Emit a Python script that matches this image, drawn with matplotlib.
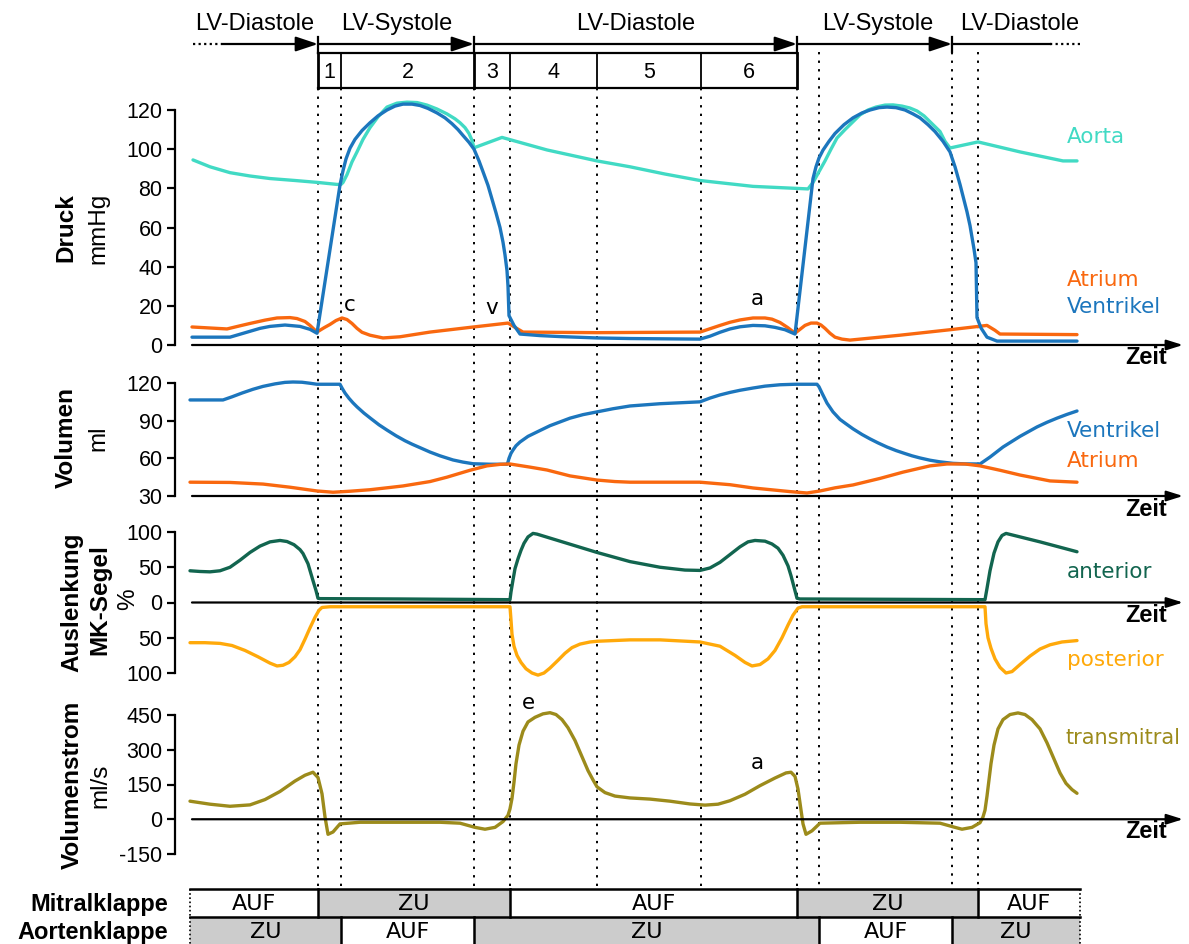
import matplotlib
matplotlib.use("Agg")
import matplotlib.pyplot as plt
from matplotlib.patches import Rectangle

plt.rcParams['font.family'] = ['Liberation Sans', 'DejaVu Sans']
plt.rcParams['axes.unicode_minus'] = False

# ---------------- data (time axis in arbitrary units along the cycle) ----------------
phase_t = [318, 341, 474, 510, 597, 701, 797, 819, 952, 978]
phase_nums = ['1', '2', '3', '4', '5', '6']

# Pressure (mmHg)
aorta_t = [193, 210, 230, 250, 270, 295, 318, 337, 341, 343, 347, 352, 357, 363, 370, 378,
           387, 397, 407, 417, 427, 437, 447, 455, 460, 465, 469, 472, 474,
           502, 547, 597, 630, 665, 700, 753, 808, 813, 819, 825, 831, 837, 845, 852,
           860, 868, 876, 885, 893, 902, 910, 917, 924, 930, 936, 940, 945, 950,
           978, 1020, 1063, 1077]
aorta_p = [94.5, 91, 88, 86.3, 85, 84, 83, 82, 82, 83, 87, 93.5, 98.6, 105, 111, 116.5,
           121.5, 123.5, 124, 123.8, 122.5, 120.5, 118, 115.5, 113.5, 111, 108, 104.5, 100.7,
           106, 99.6, 94, 91, 87.3, 84, 81, 79.7, 83, 88.5, 94, 100, 105.7, 110, 113.5,
           117.5, 120, 121.5, 122.5, 122.6, 122, 121, 119.5, 117, 114, 111, 109, 104, 100.6,
           103.7, 98.6, 94, 94]

vent_p_t = [192, 230, 240, 250, 260, 270, 285, 300, 310, 317, 340, 343, 346, 350, 355, 362,
            370, 378, 387, 395, 403, 412, 420, 428, 437, 445, 452, 458, 463, 469, 474, 479,
            483, 488, 492, 496, 500, 503, 505, 507, 508, 509, 514, 520, 540, 560, 597, 630,
            700, 710, 720, 730, 740, 753, 765, 775, 785, 795, 813, 816, 819, 823, 829, 835,
            844, 853, 862, 870, 879, 887, 896, 905, 913, 920, 928, 935, 943, 950, 955, 960,
            964, 967, 970, 972, 974, 976, 977, 981, 987, 997, 1077]
vent_p = [4, 4, 5.5, 7, 8.5, 9.5, 10.2, 9.5, 8, 6, 81.7, 89, 95, 100.5, 105, 109.5,
          113.5, 117, 120, 122, 123, 123, 122.3, 120.8, 118.5, 116, 113, 110, 107, 103.5, 100, 94,
          88.5, 81.5, 74.5, 67.5, 60, 52.5, 46, 38, 30, 15, 10, 5.6, 4.8, 4.3, 3.6, 3.3,
          3, 4.5, 6.5, 8.2, 9.3, 10, 9.8, 9, 7.8, 5.6, 85, 91, 95.5, 99.5, 104, 108,
          112.5, 116, 118.5, 120, 121.2, 121.5, 121.2, 120, 118, 116, 112.5, 109, 104, 98.6, 91, 82,
          74, 68, 61, 55, 49, 42, 14, 8.7, 4, 2, 2]

atr_p_t = [192, 227, 240, 250, 265, 277, 290, 297, 305, 310, 317, 324, 330, 336, 342, 347,
           352, 357, 362, 370, 383, 400, 430, 470, 508, 515, 523, 597, 700, 710, 720, 730,
           740, 753, 765, 772, 780, 788, 795, 800, 805, 811, 817, 821, 825, 830, 835, 842,
           850, 900, 950, 987, 995, 1000, 1077]
atr_p = [9.2, 8.2, 9.8, 11, 12.7, 13.8, 14, 13.5, 12, 10, 6.6, 8.8, 10.5, 12.5, 13.8, 13,
         11, 8.5, 6.5, 5, 3.6, 4.2, 6.6, 9, 11.2, 9, 6.6, 6.3, 6.6, 8.3, 10, 11.6,
         12.8, 13.8, 13.8, 13.2, 11.5, 8.8, 6, 8, 10, 11.2, 11.2, 10.2, 8.5, 6, 4, 3,
         2.5, 5, 7.8, 10, 7.5, 5.6, 5.3]

# Volume (ml)
vent_v_t = [190, 223, 232, 242, 253, 263, 275, 285, 293, 302, 310, 317, 340, 342, 345, 349,
            353, 357, 364, 371, 379, 387, 396, 405, 412, 420, 430, 440, 453, 463, 473, 490,
            507, 508, 509, 511, 513, 516, 520, 528, 537, 550, 560, 570, 583, 597, 613, 630,
            660, 700, 710, 720, 730, 740, 753, 765, 780, 795, 817, 819, 822, 827, 833, 840,
            846, 853, 862, 870, 878, 887, 896, 905, 912, 920, 930, 940, 953, 965, 980, 990,
            1003, 1020, 1037, 1047, 1057, 1067, 1077]
vent_v = [106.5, 106.5, 109, 112, 115, 117.3, 119.3, 120.5, 120.8, 120.6, 119.8, 119, 119, 116, 112, 107.8,
          104.2, 101, 96, 91.6, 86.7, 82.5, 78, 74, 71.3, 68.5, 65, 62, 58.7, 57, 55.7, 55.3,
          55.3, 57, 60, 64, 66.6, 70, 73, 77.5, 81, 86, 89, 92, 94.8, 97, 99.5, 101.7,
          103.5, 105, 108, 110.5, 112.5, 114.2, 116, 117.5, 118.6, 119, 119, 117, 112, 104, 97, 91,
          87.5, 83.5, 79, 75.5, 72.3, 69, 66.2, 63.8, 62, 60.3, 58.5, 57.2, 56, 55.6, 55.5, 61,
          69, 77.5, 85, 88.7, 92, 95, 97.7]

atr_v_t = [190, 230, 263, 290, 317, 333, 350, 370, 390, 403, 430, 447, 470, 487, 500, 510,
           530, 547, 570, 597, 615, 630, 700, 730, 753, 790, 807, 820, 835, 853, 880, 903,
           930, 947, 965, 980, 1000, 1020, 1050, 1077]
atr_v = [41, 40.8, 39.5, 37, 34, 33, 33.8, 35, 36.8, 38, 41.5, 45, 50.5, 54, 55.2, 55.5,
         53, 50.7, 46, 42.7, 41.5, 41, 41, 39, 36.4, 33.5, 32.4, 34, 36.5, 38.8, 44, 49,
         54, 55.5, 55.5, 54, 50.5, 46.7, 42, 41]

# Mitral leaflet excursion (%)
ant_t = [190, 200, 210, 220, 230, 240, 250, 260, 270, 280, 287, 294, 300, 303, 308, 313,
         316, 318, 320, 400, 510, 511, 513, 515, 518, 521, 524, 528, 533, 537, 597, 630,
         660, 685, 700, 710, 720, 730, 740, 748, 755, 765, 772, 778, 783, 788, 791, 794,
         797, 800, 900, 985, 987, 990, 994, 998, 1002, 1006, 1040, 1077]
ant = [45, 44, 43.5, 45, 50, 60, 71, 80, 86, 88, 86.5, 82, 75, 69.5, 55, 31,
       17, 6, 5.5, 5, 4, 15, 32, 48, 62, 74, 84, 93, 98, 97, 71, 58,
       50, 46, 45.5, 49, 57, 68, 79, 86, 88, 87, 83, 77, 67, 52, 38, 22,
       6, 5, 4.5, 4, 20, 45, 70, 86, 95, 98, 86, 72]

post_t = [190, 205, 220, 232, 245, 258, 270, 277, 283, 289, 295, 300, 305, 310, 315, 319,
          322, 330, 510, 511, 512, 514, 517, 521, 526, 532, 538, 544, 550, 558, 565, 572,
          580, 590, 597, 630, 660, 700, 720, 735, 745, 752, 760, 768, 775, 782, 788, 793,
          798, 802, 985, 986, 988, 991, 995, 1000, 1006, 1012, 1020, 1030, 1040, 1050, 1062, 1077]
post = [-57, -57, -58, -61, -68, -77, -86, -90, -89, -85, -77, -67, -52, -36, -21, -11,
        -7, -6, -6, -25, -45, -62, -75, -85, -94, -100, -103, -100, -93, -82, -72, -64,
        -59, -56, -55, -53, -53, -56, -62, -75, -85, -90, -88, -80, -68, -50, -32, -18,
        -8, -6, -6, -30, -50, -65, -80, -92, -100, -98, -88, -76, -66, -60, -56, -54]

# Transmitral flow (ml/s)
flow_t = [190, 210, 230, 250, 265, 280, 295, 305, 313, 318, 322, 325, 328, 333, 340, 360,
          400, 440, 460, 475, 485, 495, 503, 508, 510, 512, 514, 516, 519, 523, 528, 535,
          543, 550, 556, 562, 568, 575, 582, 588, 593, 597, 605, 615, 630, 650, 670, 690,
          705, 718, 730, 745, 760, 775, 786, 791, 795, 798, 801, 803, 806, 812, 820, 860,
          900, 940, 955, 962, 972, 980, 983, 985, 987, 989, 991, 994, 998, 1003, 1010, 1018,
          1025, 1032, 1040, 1047, 1054, 1060, 1066, 1072, 1077]
flow = [78, 65, 56, 62, 85, 120, 165, 190, 203, 180, 110, 10, -65, -55, -20, -13,
        -13, -13, -17, -35, -43, -35, -10, 17, 45, 90, 160, 240, 320, 380, 420, 440,
        455, 460, 452, 430, 395, 340, 270, 210, 170, 140, 115, 100, 92, 87, 78, 66,
        61, 65, 80, 108, 145, 178, 200, 203, 185, 130, 40, -20, -65, -50, -17, -13,
        -13, -17, -35, -43, -35, -15, 10, 39, 100, 170, 240, 320, 390, 430, 452, 459,
        452, 430, 390, 330, 260, 200, 155, 128, 112]

# Valve states
mitral_edges = [190, 318, 510, 797, 978, 1080]
mitral_state = ['AUF', 'ZU', 'AUF', 'ZU', 'AUF']
aortic_edges = [190, 341, 474, 819, 952, 1080]
aortic_state = ['ZU', 'AUF', 'ZU', 'AUF', 'ZU']

# ---------------- style ----------------
C_AORTA = '#41dac4'
C_VENT = '#1c76bd'
C_ATR = '#f9680f'
C_ANT = '#12654f'
C_POST = '#ffa90a'
C_FLOW = '#9c8b1b'
C_GRAY = '#cccccc'
LW = 2.4
LKW = dict(lw=LW, solid_capstyle='round', solid_joinstyle='round')

W, H = 1189, 944
fig = plt.figure(figsize=(W / 100, H / 100), dpi=100)

ov = fig.add_axes([0, 0, 1, 1])
ov.set_xlim(0, W)
ov.set_ylim(H, 0)
ov.axis('off')
ov.set_zorder(0)

X_LEFT, X_RIGHT = 175, 1180


def panel(v0, p0, v1, p1, lo, hi):
    scale = (p0 - p1) / (v1 - v0)
    bot = p0 + (v0 - lo) * scale
    top = p0 - (hi - v0) * scale
    ax = fig.add_axes([X_LEFT / W, 1 - bot / H, (X_RIGHT - X_LEFT) / W, (bot - top) / H])
    ax.set_xlim(X_LEFT, X_RIGHT)
    ax.set_ylim(lo, hi)
    ax.patch.set_visible(False)
    for s in ['top', 'right', 'bottom']:
        ax.spines[s].set_visible(False)
    ax.spines['left'].set_linewidth(1.6)
    ax.set_xticks([])
    ax.tick_params(axis='y', direction='out', length=6, width=1.6, labelsize=15.5, pad=3)
    ax.set_zorder(2)
    return ax


def zeit_axis(ax, y0):
    ax.annotate('', xy=(1183, y0), xytext=(192, y0),
                arrowprops=dict(arrowstyle='-|>,head_length=0.7,head_width=0.22', lw=1.6,
                                color='black', shrinkA=0, shrinkB=0, mutation_scale=14),
                annotation_clip=False)


# Pressure panel
axp = panel(0, 345, 120, 110, -8, 130)
axp.spines['left'].set_bounds(0, 120)
axp.set_yticks([0, 20, 40, 60, 80, 100, 120])
axp.plot(aorta_t, aorta_p, color=C_AORTA, **LKW)
axp.plot(atr_p_t, atr_p, color=C_ATR, **LKW)
axp.plot(vent_p_t, vent_p, color=C_VENT, **LKW)
zeit_axis(axp, 0)

# Volume panel
axv = panel(30, 496, 120, 383, 25, 125)
axv.spines['left'].set_bounds(30, 120)
axv.set_yticks([30, 60, 90, 120])
axv.plot(vent_v_t, vent_v, color=C_VENT, **LKW)
axv.plot(atr_v_t, atr_v, color=C_ATR, **LKW)
zeit_axis(axv, 30)

# Mitral leaflet panel
axm = panel(100, 532, -100, 673, -112, 112)
axm.spines['left'].set_bounds(-100, 100)
axm.set_yticks([100, 50, 0, -50, -100])
axm.set_yticklabels(['100', '50', '0', '50', '100'])
axm.plot(ant_t, ant, color=C_ANT, **LKW)
axm.plot(post_t, post, color=C_POST, **LKW)
zeit_axis(axm, 0)

# Flow panel
axf = panel(450, 715, -150, 854, -170, 480)
axf.spines['left'].set_bounds(-150, 450)
axf.set_yticks([450, 300, 150, 0, -150])
axf.set_yticklabels(['450', '300', '150', '0', '-150'])
axf.plot(flow_t, flow, color=C_FLOW, **LKW)
zeit_axis(axf, 0)

# ---------------- overlay: phase lines, header, labels ----------------
box_top, box_bot = 53, 88
arrow_y = 44
cycle_start, cycle_end = phase_t[0], phase_t[6]
for t in phase_t:
    start = box_bot if cycle_start <= t <= cycle_end else 52
    ov.plot([t, t], [start, 889], ls=(0, (1.2, 3.2)), color='black', lw=1.4, zorder=1)

# box with phase numbers
box_lines = [cycle_start] + phase_t[1:6] + [cycle_end]
ov.plot([cycle_start, cycle_end], [box_top, box_top], color='black', lw=1.6)
ov.plot([cycle_start, cycle_end], [box_bot, box_bot], color='black', lw=1.6)
for t in box_lines:
    lw = 2.0 if t in (phase_t[0], phase_t[2], phase_t[6]) else 1.3
    ov.plot([t, t], [box_top, box_bot], color='black', lw=lw)
for i, n in enumerate(phase_nums):
    xc = (box_lines[i] + box_lines[i + 1]) / 2
    ov.text(xc, 72, n, ha='center', va='center', fontsize=15.5)

# header arrows
hdr = [(222, 318, 'LV-Diastole', 255), (318, 474, 'LV-Systole', 397), (474, 797, 'LV-Diastole', 636),
       (797, 952, 'LV-Systole', 878), (952, 1050, 'LV-Diastole', 1020)]
arrow_kw = dict(arrowstyle='-|>,head_length=0.75,head_width=0.25', lw=1.6, color='black',
                shrinkA=0, shrinkB=0, mutation_scale=18)
for a, b, lbl, xc in hdr:
    if b != 1050:
        ov.annotate('', xy=(b, arrow_y), xytext=(a, arrow_y), arrowprops=arrow_kw)
    else:
        ov.plot([a, b], [arrow_y, arrow_y], color='black', lw=1.6)
    ov.text(xc, 24, lbl, ha='center', va='center', fontsize=17)
ov.plot([193, 222], [arrow_y, arrow_y], ls=(0, (1, 1.5)), color='black', lw=1.6)
ov.plot([1050, 1080], [arrow_y, arrow_y], ls=(0, (1, 1.5)), color='black', lw=1.6)
for t in (phase_t[0], phase_t[2], phase_t[6], phase_t[8]):
    ov.plot([t, t], [37, box_top if t != phase_t[8] else 52], color='black', lw=1.6)

# y-axis titles
YT = 17.5
ov.text(66, 228, 'Druck', rotation=90, ha='center', va='center', fontsize=YT, fontweight='bold')
ov.text(98, 228, 'mmHg', rotation=90, ha='center', va='center', fontsize=YT)
ov.text(66, 438, 'Volumen', rotation=90, ha='center', va='center', fontsize=YT, fontweight='bold')
ov.text(98, 438, 'ml', rotation=90, ha='center', va='center', fontsize=YT)
ov.text(72, 602, 'Auslenkung', rotation=90, ha='center', va='center', fontsize=YT, fontweight='bold')
ov.text(100, 600, 'MK-Segel', rotation=90, ha='center', va='center', fontsize=YT, fontweight='bold')
ov.text(128, 599, '%', rotation=90, ha='center', va='center', fontsize=YT)
ov.text(72, 785, 'Volumenstrom', rotation=90, ha='center', va='center', fontsize=YT, fontweight='bold')
ov.text(100, 786, 'ml/s', rotation=90, ha='center', va='center', fontsize=YT)

# Zeit labels
for yz in (358, 509, 615, 832):
    ov.text(1167, yz, 'Zeit', ha='right', va='center', fontsize=17, fontweight='bold')

# series labels
DV = 'DejaVu Sans'
SL = 15.5
ov.text(1067, 137, 'Aorta', color=C_AORTA, fontsize=SL, family=DV, va='center')
ov.text(1067, 280, 'Atrium', color=C_ATR, fontsize=SL, family=DV, va='center')
ov.text(1067, 307, 'Ventrikel', color=C_VENT, fontsize=SL, family=DV, va='center')
ov.text(1067, 431, 'Ventrikel', color=C_VENT, fontsize=SL, family=DV, va='center')
ov.text(1067, 461, 'Atrium', color=C_ATR, fontsize=SL, family=DV, va='center')
ov.text(1067, 572, 'anterior', color=C_ANT, fontsize=SL, family=DV, va='center')
ov.text(1067, 660, 'posterior', color=C_POST, fontsize=SL, family=DV, va='center')
ov.text(1066, 738, 'transmitral', color=C_FLOW, fontsize=15, family=DV, va='center')

# wave annotations
for xx, yy, s in [(350, 305, 'c'), (492, 308, 'v'), (757, 299, 'a'), (528, 703, 'e'), (757, 763, 'a')]:
    ov.text(xx, yy, s, ha='center', va='center', fontsize=15.5, family=DV)

# ---------------- valve bars ----------------
rows = [(889, 917, mitral_edges, mitral_state), (917, 946, aortic_edges, aortic_state)]
for y0, y1, edges, states in rows:
    for i, st in enumerate(states):
        a, b = edges[i], edges[i + 1]
        ov.add_patch(Rectangle((a, y0), b - a, y1 - y0,
                               facecolor=C_GRAY if st == 'ZU' else 'white',
                               edgecolor='none', zorder=2))
        ov.text((a + b) / 2, (y0 + y1) / 2 + 1, st, ha='center', va='center', fontsize=16,
                family=DV, zorder=4)
        if 0 < i:
            ov.plot([a, a], [y0, y1], color='black', lw=1.8, zorder=3)
    ov.plot([edges[0], edges[-1]], [y0, y0], color='black', lw=1.8, zorder=3)
    ov.plot([edges[0], edges[0]], [y0, y1], ls=(0, (1, 1.5)), color='black', lw=1.2, zorder=3)
    ov.plot([edges[-1], edges[-1]], [y0, y1], ls=(0, (1, 1.5)), color='black', lw=1.2, zorder=3)

ov.text(168, 904, 'Mitralklappe', ha='right', va='center', fontsize=17, fontweight='bold')
ov.text(168, 932, 'Aortenklappe', ha='right', va='center', fontsize=17, fontweight='bold')

fig.savefig('out.png', dpi=100)
